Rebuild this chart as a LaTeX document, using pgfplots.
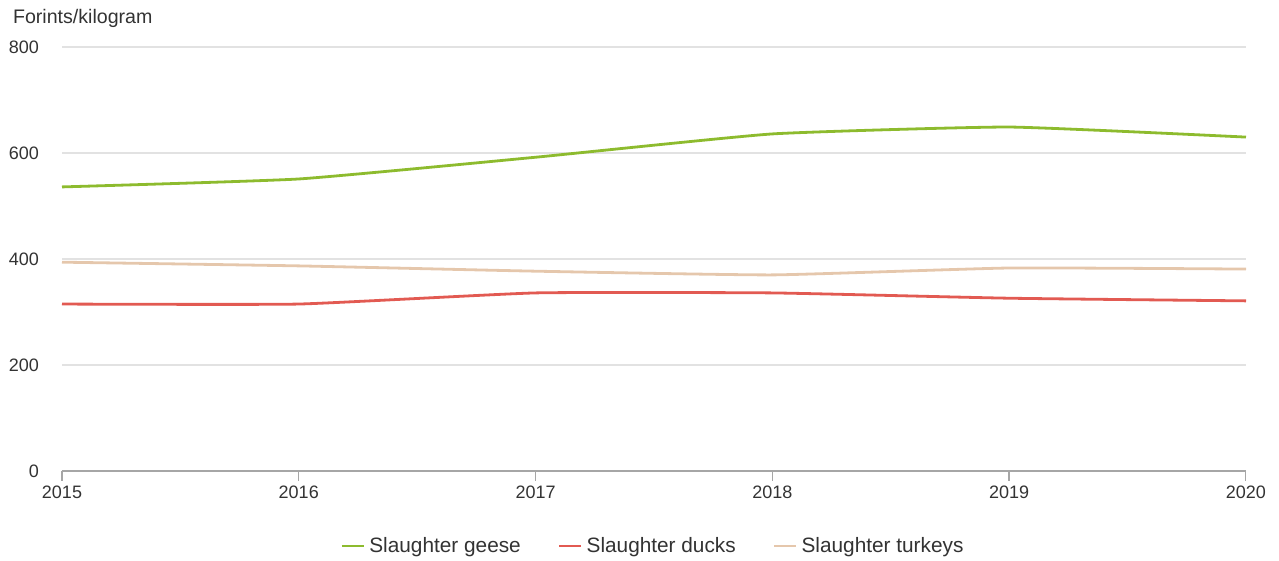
\documentclass[border=0pt]{standalone}
\usepackage{pgfplots}
\pgfplotsset{compat=1.18}
\usepackage{fontspec}
\setmainfont{Liberation Sans}
\definecolor{geese}{HTML}{8DBB2E}
\definecolor{ducks}{HTML}{E25A52}
\definecolor{turkeys}{HTML}{E5C7AC}
\definecolor{gridc}{HTML}{E2E2E2}
\definecolor{txt}{HTML}{333333}
\begin{document}
\begin{tikzpicture}
\begin{axis}[
  scale only axis, width=592pt, height=212pt,
  xmin=2015, xmax=2020, ymin=0, ymax=800,
  xtick={2015,...,2020}, ytick={0,200,400,600,800},
  xticklabel style={/pgf/number format/1000 sep={}},
  /pgf/number format/assume math mode=true,
  ticklabel style={font=\fontsize{9}{10}\selectfont, text=txt},
  axis x line*=bottom, axis y line*=left,
  x axis line style={draw=gray!70, line width=0.6pt},
  y axis line style={draw=none},
  xtick style={draw=gray!70, line width=0.6pt},
  ytick style={draw=none},
  tick align=outside, major tick length=5pt,
  ymajorgrids, grid style={gridc, line width=0.6pt},
  yticklabel style={xshift=-3pt},
  xticklabel style={yshift=1pt},
  clip=false,
  legend columns=3,
  legend style={draw=none, at={(0.5,-37.5pt)}, anchor=center, font=\fontsize{10.4}{12}\selectfont, text=txt, /tikz/every even column/.style={column sep=16.5pt}},
  legend image code/.code={\draw[#1] (0pt,0pt) -- (11pt,0pt);},
  every axis plot/.append style={line width=1.4pt, smooth, tension=0.25},
]
\addplot[geese] coordinates {(2015,536) (2016,551) (2017,592) (2018,636) (2019,649) (2020,630)};
\addlegendentry{Slaughter geese}
\addplot[ducks] coordinates {(2015,315) (2016,315) (2017,336) (2018,336) (2019,326) (2020,321)};
\addlegendentry{Slaughter ducks}
\addplot[turkeys] coordinates {(2015,394) (2016,387) (2017,377) (2018,370) (2019,383) (2020,381)};
\addlegendentry{Slaughter turkeys}
\end{axis}
\node[anchor=west, text=txt, font=\fontsize{9.8}{11}\selectfont] at (-28pt,226.5pt) {Forints/kilogram};
\pgfresetboundingbox
\path (-31pt,-45pt) rectangle (608.5pt,235.5pt);
\end{tikzpicture}
\end{document}
